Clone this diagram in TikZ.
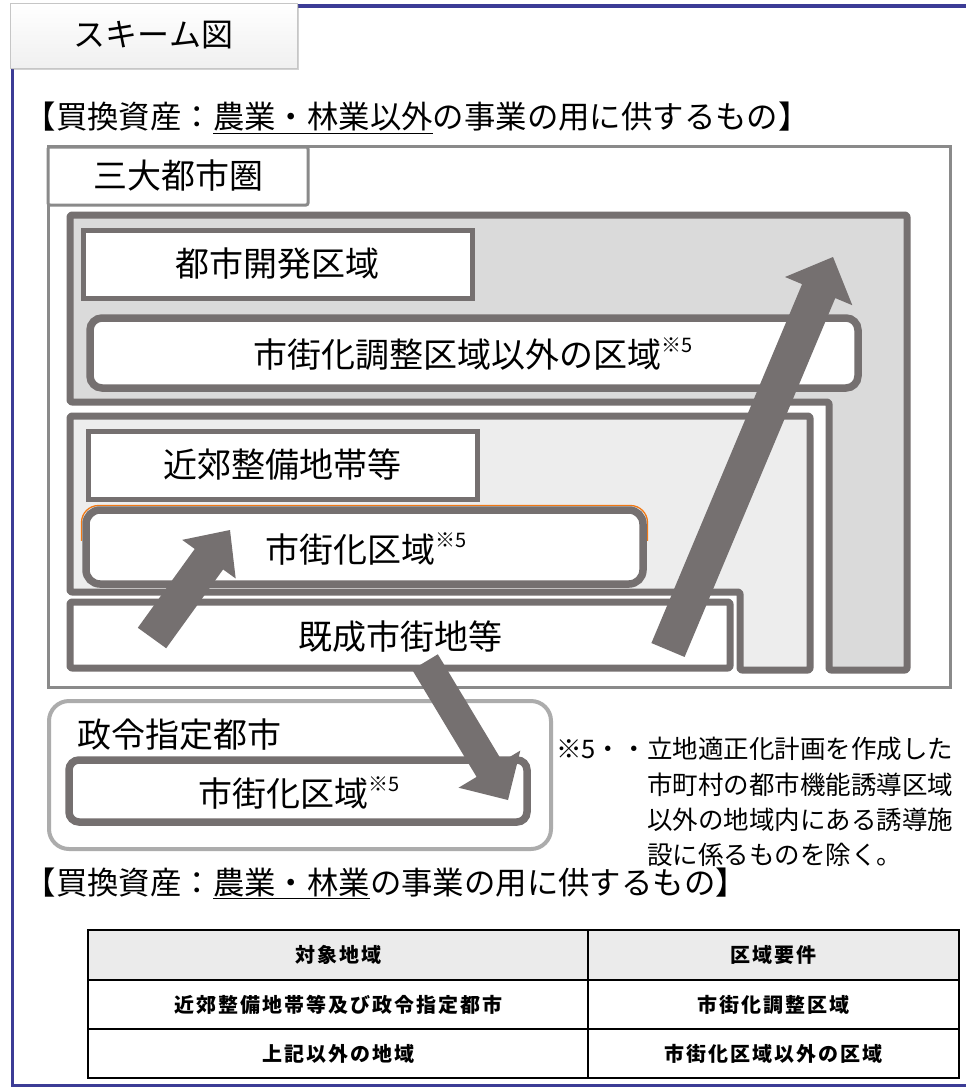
\documentclass[tikz,border=0pt]{standalone}
\usepackage{fontspec}
\setmainfont{Noto Sans CJK JP}
\newfontfamily\tblfont[LetterSpace=10]{Noto Sans CJK JP}
\usetikzlibrary{calc,shadows}
\definecolor{dk}{RGB}{117,112,112}
\definecolor{fillA}{RGB}{218,218,218}
\definecolor{fillB}{RGB}{237,237,237}
\definecolor{outerg}{RGB}{138,138,138}
\definecolor{seireig}{RGB}{172,172,172}
\definecolor{frameblue}{RGB}{60,60,150}
\definecolor{orng}{RGB}{240,120,20}
\definecolor{hdr}{RGB}{235,235,235}
\newcommand{\myfs}[1]{\fontsize{#1}{#1}\selectfont}
\newcommand{\sufive}{\raisebox{0.42em}{\myfs{20}※5}}
\newcommand{\blkarrow}[5]{%
  \coordinate (bh) at ($(#2)!#5!(#1)$);
  \fill[dk] ($(#1)!#3!90:(#2)$) -- ($(bh)!#3!90:(#2)$) -- ($(bh)!#4!90:(#2)$) -- (#2)
    -- ($(bh)!#4!-90:(#2)$) -- ($(bh)!#3!-90:(#2)$) -- ($(#1)!#3!-90:(#2)$) -- cycle;
}
\begin{document}
\begin{tikzpicture}[x=1pt,y=-1pt,
  dkshape/.style={preaction={draw=white,line width=10pt}, draw=dk, line width=7pt, line join=round},
  lblbox/.style={draw=dk, line width=5pt, fill=white, inner sep=0pt},
  rndbox/.style={draw=dk, line width=7.5pt, fill=white, rounded corners=12pt, inner sep=0pt},
  lbltext/.style={inner sep=0pt, font=\myfs{34}},
  fntext/.style={inner sep=0pt, anchor=west, font=\myfs{25.5}},
  tbltext/.style={inner sep=0pt, font=\tblfont\bfseries\myfs{20}}
]
\useasboundingbox (0,0) rectangle (966,1088);
\fill[white] (0,0) rectangle (966,1088);

% blue frame
\draw[frameblue, line width=3.5pt] (297,6) -- (966,6);
\draw[frameblue, line width=3.5pt] (12.5,66) -- (12.5,1085.5) -- (966,1085.5);

% title tab
\node[draw=gray!45, line width=1pt, top color=white, bottom color=gray!12,
      drop shadow={opacity=0.35, shadow xshift=2pt, shadow yshift=-2pt},
      minimum width=287pt, minimum height=65pt, font=\myfs{32}] (title) at (153.5,35.5) {スキーム図};

% heading 1
\node[anchor=west, inner sep=0pt, font=\myfs{31.4}] (h1) at (24.5,118)
  {【買換資産：\underline{農業・林業以外}の事業の用に供するもの】};

% 三大都市圏
\node[draw=outerg, line width=3pt, fill=white, minimum width=902pt, minimum height=541pt, inner sep=0pt] (sandai) at (499,416.5) {};
\node[draw=outerg, line width=3pt, fill=white, rounded corners=2pt, minimum width=260pt, minimum height=58pt, inner sep=0pt, font=\myfs{34}] (sandaitab) at (178,176) {三大都市圏};

% 都市開発区域 region
\draw[dkshape, fill=fillA, rounded corners=2pt] (70,215) -- (907,215) -- (907,670) -- (829,670) -- (829,402) -- (70,402) -- cycle;
% 近郊整備地帯等 region
\draw[dkshape, fill=fillB, rounded corners=2pt] (70,416) -- (810,416) -- (810,670) -- (740,670) -- (740,592) -- (70,592) -- cycle;
% 既成市街地等
\draw[dkshape, fill=white, rounded corners=2pt] (70,602) rectangle (730,668);
\node[lbltext] (kisei) at (400,637) {既成市街地等};

% label boxes
\node[lblbox, minimum width=389pt, minimum height=68pt, font=\myfs{34}] (kaihatsu) at (277.5,264) {都市開発区域};
\node[rndbox, minimum width=768pt, minimum height=70pt] (chosei) at (474,353) {};
\node[lbltext] (choseit) at (473,354) {市街化調整区域以外の区域\sufive};

\node[lblbox, minimum width=389pt, minimum height=68pt, font=\myfs{34}] (kinko) at (282.5,465) {近郊整備地帯等};

\begin{scope}
  \clip (60,495) rectangle (670,540);
  \draw[orng, line width=1.3pt, rounded corners=17pt] (81.5,505.5) rectangle (647.5,588.5);
\end{scope}
\node[rndbox, rounded corners=14pt, minimum width=557pt, minimum height=74pt] (shigai1) at (364.5,547) {};
\node[lbltext] (shigai1t) at (366,549) {市街化区域\sufive};

% arrows in 三大都市圏
\coordinate (a1t) at (152,638); \coordinate (a1h) at (230,530);
\blkarrow{a1t}{a1h}{17.5pt}{33pt}{36pt}
\coordinate (a2t) at (668,650); \coordinate (a2h) at (833,257);
\blkarrow{a2t}{a2h}{18pt}{36.5pt}{37pt}

% 政令指定都市
\node[draw=seireig, line width=4pt, fill=white, rounded corners=20pt, minimum width=502pt, minimum height=148pt, inner sep=0pt] (seirei) at (300,775) {};
\node[lbltext, anchor=west] (seireit) at (77,735) {政令指定都市};
\node[rndbox, rounded corners=10pt, minimum width=458pt, minimum height=62pt] (shigai2) at (298,791) {};
\node[lbltext] (shigai2t) at (299,793) {市街化区域\sufive};

\coordinate (a3t) at (425,662); \coordinate (a3h) at (508,800);
\blkarrow{a3t}{a3h}{15pt}{36pt}{36pt}

% footnote
\node[inner sep=0pt, anchor=east, font=\myfs{25.5}] (fn0) at (647,749) {※5・・};
\node[fntext] (fn1) at (647,749) {立地適正化計画を作成した};
\node[fntext] (fn2) at (647,785) {市町村の都市機能誘導区域};
\node[fntext] (fn3) at (647,820) {以外の地域内にある誘導施};
\node[fntext] (fn4) at (647,855) {設に係るものを除く。};

% heading 2
\node[anchor=west, inner sep=0pt, font=\myfs{31.4}] (h2) at (24.5,883)
  {【買換資産：\underline{農業・林業}の事業の用に供するもの】};

% table
\fill[hdr] (88,930) rectangle (959,980);
\draw[black, line width=2pt] (88,930) rectangle (959,1078);
\draw[black, line width=2pt] (88,980) -- (959,980);
\draw[black, line width=2pt] (88,1029) -- (959,1029);
\draw[black, line width=2pt] (588,930) -- (588,1078);
\node[tbltext] (t11) at (338,955) {対象地域};
\node[tbltext] (t12) at (773.5,955) {区域要件};
\node[tbltext] (t21) at (338,1004.5) {近郊整備地帯等及び政令指定都市};
\node[tbltext] (t22) at (773.5,1004.5) {市街化調整区域};
\node[tbltext] (t31) at (338,1053.5) {上記以外の地域};
\node[tbltext] (t32) at (773.5,1053.5) {市街化区域以外の区域};
\end{tikzpicture}
\end{document}
